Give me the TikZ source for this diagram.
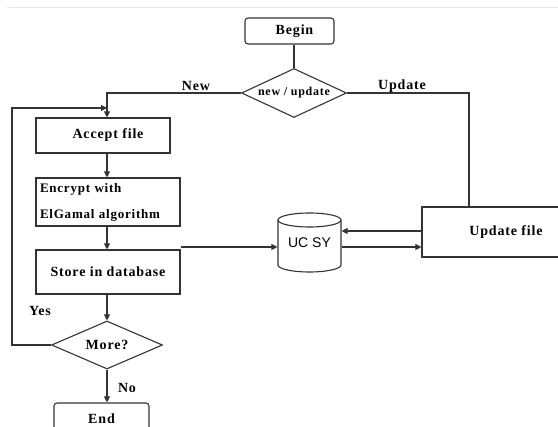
\documentclass[tikz,border=0pt]{standalone}
\usepackage{fontspec}
\setmainfont{Liberation Serif}[LetterSpace=6]
\setsansfont{Liberation Sans}
\usetikzlibrary{arrows.meta,shapes.geometric}
\begin{document}
\begin{tikzpicture}[x=1pt,y=1pt,
  line width=1.1pt,
  lc/.style={draw=black!80},
  box/.style={lc,draw,rectangle,inner sep=0pt,font=\bfseries\fontsize{14}{16}\selectfont},
  rbox/.style={box,rounded corners=3pt},
  dia/.style={lc,draw,diamond,inner sep=0pt,aspect=2.2},
  lbl/.style={font=\bfseries\fontsize{14}{16}\selectfont,inner sep=0pt},
  arr/.style={lc,-{Triangle[length=6pt,width=6pt]}},
  ln/.style={lc}]
\useasboundingbox (0,0) rectangle (558,-427);
\clip (0,0) rectangle (558,-427);
\draw[line width=1pt,draw={rgb,255:red,220;green,232;blue,246}] (7,-8) -- (558,-8);

\node[rbox,minimum width=89pt,minimum height=26pt] (begin) at (289.5,-31) {\hspace{10pt}Begin};
\node[dia,minimum width=105pt,minimum height=49pt,font=\bfseries\fontsize{12}{14}\selectfont] (sel) at (294,-93) {new / update};
\node[box,minimum width=134pt,minimum height=35pt] (accept) at (103,-135.5) {\hspace{10pt}Accept file};
\node[box,minimum width=144pt,minimum height=48pt,font=\bfseries\fontsize{13}{26}\selectfont,align=left,text width=136pt] (enc) at (108,-202) {Encrypt with\\ElGamal algorithm};
\node[box,minimum width=144pt,minimum height=44pt] (store) at (108,-272) {Store in database};
\node[dia,minimum width=111pt,minimum height=48pt,font=\bfseries\fontsize{14}{16}\selectfont] (more) at (107,-345) {More?};
\node[rbox,minimum width=95pt,minimum height=32pt] (end) at (101.5,-419) {End};
\node[box,minimum width=168pt,minimum height=50pt] (upd) at (506,-232) {Update file};

% cylinder
\node[minimum width=63pt,minimum height=59pt,inner sep=0pt,font=\sffamily\fontsize{14}{16}\selectfont] (db) at (309.5,-242.5) {UC SY};
\draw[lc] (278,-220) -- (278,-265) arc[start angle=180,end angle=360,x radius=31.5,y radius=7] -- (341,-220);
\draw[lc] (309.5,-220) ellipse[x radius=31.5,y radius=7];

\node[lbl] (lnew) at (196,-86) {New};
\node[lbl] (lupd) at (402,-86) {Update};
\node[lbl] (lyes) at (40,-311) {Yes};
\node[lbl] (lno) at (127,-388) {No};

\coordinate (c1) at (107,-93);
\coordinate (c2) at (469,-93);
\coordinate (c3) at (12,-345);
\coordinate (c4) at (12,-108);
\coordinate (c5) at (107,-108);

\draw[ln] (sel.north |- begin.south) -- (sel.north);
\draw[arr] (sel.west) -- (c1) -- (accept.north -| c1);
\draw[ln] (sel.east) -- (c2) -- (upd.north -| c2);
\draw[arr] (accept.south -| c1) -- (enc.north -| c1);
\draw[arr] (enc.south -| c1) -- (store.north -| c1);
\draw[arr] (store.south -| c1) -- (more.north);
\draw[arr] (more.south) -- (end.north -| more.south);
\draw[arr] (more.west) -- (c3) -- (c4) -- (c5);
\draw[arr] (store.east |- 0,-247) -- (db.west |- 0,-247);
\draw[arr] (upd.west |- 0,-231) -- (db.east |- 0,-231);
\draw[arr] (db.east |- 0,-247) -- (upd.west |- 0,-247);
\end{tikzpicture}
\end{document}
